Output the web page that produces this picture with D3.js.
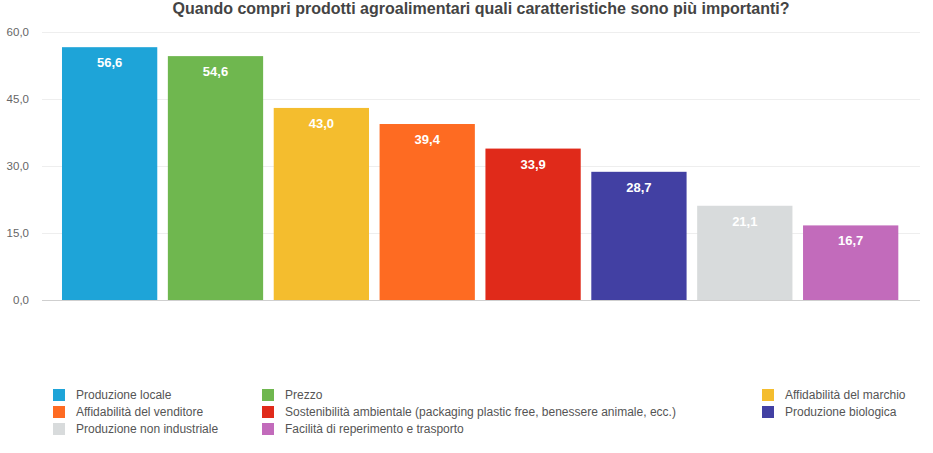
<!DOCTYPE html>
<html>
<head>
    <meta charset="utf-8">
    <title>Caratteristiche prodotti agroalimentari</title>
    <style>
        body { margin: 0; background: #fff; font-family: "Liberation Sans", Arial, Helvetica, sans-serif; }
        svg { display: block; }
    </style>
</head>
<body>
    <div id="chart"></div>
    <script src="https://d3js.org/d3.v7.min.js"></script>
    <script>
        // dati
        const categories = [
            "Produzione locale",
            "Prezzo",
            "Affidabilità del marchio",
            "Affidabilità del venditore",
            "Sostenibilità ambientale (packaging plastic free, benessere animale, ecc.)",
            "Produzione biologica",
            "Produzione non industriale",
            "Facilità di reperimento e trasporto"
        ];
        const values = [56.6, 54.6, 43.0, 39.4, 33.9, 28.7, 21.1, 16.7];
        const colors = ["#1ea4d8", "#6fb74f", "#f4bd2e", "#fe6b22", "#e02a1a", "#4240a3", "#d8dbdc", "#c26bbb"];
        const yTicks = [0, 15, 30, 45, 60];
        const title = "Quando compri prodotti agroalimentari quali caratteristiche sono più importanti?";

        const width = 933, height = 453;
        const fmt = v => d3.format(".1f")(v).replace(".", ",");

        const svg = d3.select('#chart').append('svg')
            .attr('width', width)
            .attr('height', height);

        const x = d3.scaleBand()
            .domain(categories)
            .range([56.7, 903.6])
            .paddingInner(0.1)
            .paddingOuter(0.05);

        const y = d3.scaleLinear()
            .domain([0, 60])
            .range([300, 32]);

        // titolo
        svg.append('text')
            .attr('x', 481)
            .attr('y', 14)
            .attr('text-anchor', 'middle')
            .style('font-size', '16px')
            .style('font-weight', 'bold')
            .style('fill', '#444')
            .text(title);

        // griglia
        const yAxis = d3.axisLeft(y)
            .tickValues(yTicks)
            .tickFormat(fmt)
            .tickSize(-(920 - 42))
            .tickPadding(13);

        const gy = svg.append('g')
            .attr('transform', 'translate(42,0)')
            .call(yAxis);
        gy.select('.domain').remove();
        gy.selectAll('.tick line')
            .style('stroke', d => d === 0 ? '#cfcfcf' : '#eeeeee')
            .style('stroke-width', 1);
        gy.selectAll('.tick text')
            .style('font-size', '11.5px')
            .style('fill', '#666')
            .style('font-family', '"Liberation Sans", Arial, sans-serif');

        // barre
        svg.append('g')
            .selectAll('rect')
            .data(values)
            .enter()
            .append('rect')
            .attr('x', (d, i) => x(categories[i]))
            .attr('y', d => y(d))
            .attr('width', x.bandwidth())
            .attr('height', d => y(0) - y(d))
            .style('fill', (d, i) => colors[i]);

        // etichette valori
        svg.append('g')
            .selectAll('text')
            .data(values)
            .enter()
            .append('text')
            .attr('x', (d, i) => x(categories[i]) + x.bandwidth() / 2)
            .attr('y', d => y(d) + 20)
            .attr('text-anchor', 'middle')
            .style('font-size', '13px')
            .style('font-weight', 'bold')
            .style('fill', '#fff')
            .text(fmt);

        // legenda (3 colonne)
        const legendCols = [53, 262, 762];
        const legendRows = [395, 412, 429];
        const legend = svg.append('g')
            .selectAll('g')
            .data(categories)
            .enter()
            .append('g')
            .attr('transform', (d, i) => `translate(${legendCols[i % 3]},${legendRows[Math.floor(i / 3)]})`);

        legend.append('rect')
            .attr('x', 0)
            .attr('y', -6)
            .attr('width', 12)
            .attr('height', 12)
            .style('fill', (d, i) => colors[i]);

        legend.append('text')
            .attr('x', 23)
            .attr('y', 4)
            .style('font-size', '12px')
            .style('fill', '#555')
            .text(d => d);
    </script>
</body>
</html>
